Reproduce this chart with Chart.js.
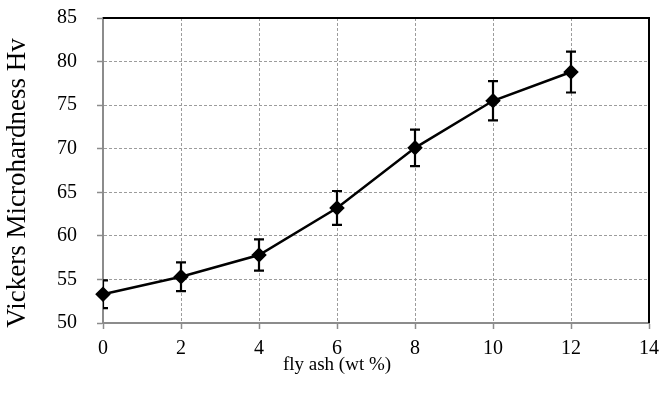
<!DOCTYPE html>
<html>
<head>
<meta charset="utf-8">
<script src="https://cdn.jsdelivr.net/npm/chart.js@4/dist/chart.umd.min.js"></script>
<style>
	html, body { margin: 0; padding: 0; background: #fff; }
</style>
</head>
<body>
<canvas id="hardness-canvas" width="667" height="396"></canvas>
<script>
let flyAsh = [0, 2, 4, 6, 8, 10, 12];
let hardness = [53.3, 55.3, 57.8, 63.2, 70.1, 75.5, 78.8];
let hardnessErr = [1.6, 1.65, 1.8, 1.95, 2.1, 2.25, 2.35];
let xTicks = [0, 2, 4, 6, 8, 10, 12, 14];
let yTicks = [50, 55, 60, 65, 70, 75, 80, 85];
let xTitle = "fly ash (wt %)";
let yTitle = "Vickers Microhardness Hv";

const serif = "'Liberation Serif', 'Times New Roman', serif";

// error bars, clipped to the plot area like the original
const errorBars = {
	id: "errorBars",
	afterDatasetsDraw(chart) {
		let ctx = chart.ctx, xs = chart.scales.x, ys = chart.scales.y, a = chart.chartArea;
		ctx.save();
		ctx.beginPath();
		ctx.rect(a.left, a.top, a.right - a.left, a.bottom - a.top);
		ctx.clip();
		ctx.strokeStyle = "#000";
		ctx.lineWidth = 2.2;
		for(let i = 0; i < flyAsh.length; i++){
			let x = xs.getPixelForValue(flyAsh[i]);
			let yTop = ys.getPixelForValue(hardness[i] + hardnessErr[i]);
			let yBot = ys.getPixelForValue(hardness[i] - hardnessErr[i]);
			ctx.beginPath();
			ctx.moveTo(x, yTop); ctx.lineTo(x, yBot);
			ctx.moveTo(x - 5, yTop); ctx.lineTo(x + 5, yTop);
			ctx.moveTo(x - 5, yBot); ctx.lineTo(x + 5, yBot);
			ctx.stroke();
		}
		ctx.restore();
	}
};

// black top/right frame plus the axis titles
const frame = {
	id: "frame",
	beforeDatasetsDraw(chart) {
		let ctx = chart.ctx, a = chart.chartArea;
		ctx.save();
		ctx.strokeStyle = "#000";
		ctx.lineWidth = 2;
		ctx.beginPath();
		ctx.moveTo(a.left, a.top);
		ctx.lineTo(a.right, a.top);
		ctx.lineTo(a.right, a.bottom);
		ctx.stroke();
		ctx.restore();
	},
	afterDraw(chart) {
		let ctx = chart.ctx;
		ctx.save();
		ctx.fillStyle = "#000";
		ctx.textAlign = "center";
		ctx.textBaseline = "middle";
		ctx.font = "19px " + serif;
		ctx.fillText(xTitle, 337, 365);
		ctx.translate(18, 183);
		ctx.rotate(-Math.PI / 2);
		ctx.font = "27px " + serif;
		ctx.fillText(yTitle, 0, 0);
		ctx.restore();
	}
};

let graph = new Chart("hardness-canvas", {
	type: "line",
	data: {
		datasets: [{
			data: flyAsh.map((x, i) => ({ x: x, y: hardness[i] })),
			borderColor: "#000",
			backgroundColor: "#000",
			borderWidth: 2.5,
			tension: 0,
			pointStyle: "rectRot",
			pointRadius: 6,
			pointHoverRadius: 6,
			clip: false
		}]
	},
	options: {
		responsive: false,
		animation: false,
		layout: { padding: { top: 18, right: 15, left: 0, bottom: 0 } },
		plugins: {
			legend: { display: false },
			tooltip: { enabled: false }
		},
		scales: {
			x: {
				type: "linear",
				min: 0,
				max: 14,
				afterBuildTicks(scale) { scale.ticks = xTicks.map(v => ({ value: v })); },
				afterFit(scale) { scale.height = 73; scale.paddingTop = 0; scale.paddingBottom = 0; },
				grid: { color: "#9c9c9c", lineWidth: 1, tickLength: 6, tickColor: "#8c8c8c", tickWidth: 1.5, tickBorderDash: [] },
				border: { color: "#8c8c8c", width: 2, dash: [3, 2] },
				ticks: { color: "#000", padding: 8, font: { family: serif, size: 20 }, maxRotation: 0 }
			},
			y: {
				min: 50,
				max: 85,
				afterBuildTicks(scale) { scale.ticks = yTicks.map(v => ({ value: v })); },
				afterFit(scale) { scale.width = 103; scale.paddingTop = 0; scale.paddingBottom = 0; },
				grid: { color: "#9c9c9c", lineWidth: 1, tickLength: 6, tickColor: "#8c8c8c", tickWidth: 1.5, tickBorderDash: [] },
				border: { color: "#8c8c8c", width: 2, dash: [3, 2] },
				ticks: { color: "#000", padding: 20, font: { family: serif, size: 20 } }
			}
		}
	},
	plugins: [errorBars, frame]
});
</script>
</body>
</html>
